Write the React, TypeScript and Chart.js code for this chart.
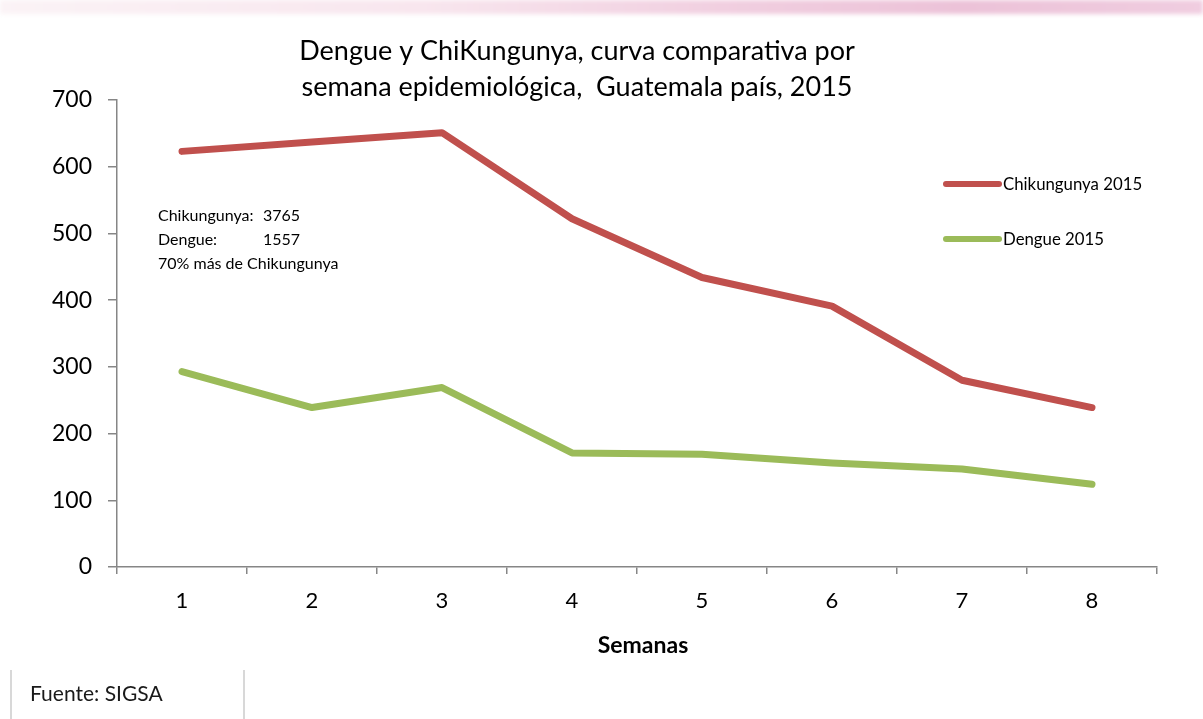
import React, { useEffect, useRef } from "react";
import { Chart, registerables } from "chart.js";

Chart.register(...registerables);

const weeks = ["1", "2", "3", "4", "5", "6", "7", "8"];
const chikungunya2015 = [623, 637, 651, 522, 434, 391, 280, 239];
const dengue2015 = [293, 239, 269, 171, 169, 156, 147, 124];
const seriesNames = ["Chikungunya 2015", "Dengue 2015"];
const titleLines = [
  "Dengue y ChiKungunya, curva comparativa por",
  "semana epidemiológica,  Guatemala país, 2015",
];
const noteLabels = ["Chikungunya:", "Dengue:", "70% más de Chikungunya"];
const noteValues = ["3765", "1557", ""];
const xTitle = "Semanas";
const sourceText = "Fuente: SIGSA";

const FONT = "Lato, 'Open Sans', sans-serif";

const overlay = {
  id: "overlay",
  afterDraw(chart: any) {
    const ctx = chart.ctx;
    const a = chart.chartArea;
    ctx.save();
    // title
    ctx.fillStyle = "#000";
    ctx.textAlign = "center";
    ctx.textBaseline = "middle";
    ctx.font = `27px ${FONT}`;
    titleLines.forEach((t, i) => ctx.fillText(t, 577, 51 + i * 36));
    // axis title
    ctx.font = `bold 23px ${FONT}`;
    ctx.fillText(xTitle, (a.left + a.right) / 2 + 6, 646);
    // note
    ctx.textAlign = "left";
    ctx.font = `16px ${FONT}`;
    noteLabels.forEach((t, i) => {
      ctx.fillText(t, 158, 216 + i * 24);
      if (noteValues[i]) ctx.fillText(noteValues[i], 263, 216 + i * 24);
    });
    // legend
    ctx.font = `16.8px ${FONT}`;
    chart.data.datasets.forEach((ds: any, i: number) => {
      const y = 184 + i * 55;
      ctx.strokeStyle = ds.borderColor;
      ctx.lineWidth = 6;
      ctx.lineCap = "round";
      ctx.beginPath();
      ctx.moveTo(946, y);
      ctx.lineTo(999, y);
      ctx.stroke();
      ctx.fillStyle = "#000";
      ctx.fillText(ds.label, 1003, y + 1);
    });
    ctx.restore();
  },
};

export default function App() {
  const ref = useRef<HTMLCanvasElement>(null);
  useEffect(() => {
    document.body.style.margin = "0";
    const chart = new Chart(ref.current!, {
      type: "line",
      data: {
        labels: weeks,
        datasets: [
          {
            label: seriesNames[0],
            data: chikungunya2015,
            borderColor: "#C0504D",
            backgroundColor: "#C0504D",
            borderWidth: 7,
            pointRadius: 0,
            borderCapStyle: "round",
            borderJoinStyle: "round",
            tension: 0,
          },
          {
            label: seriesNames[1],
            data: dengue2015,
            borderColor: "#9BBB59",
            backgroundColor: "#9BBB59",
            borderWidth: 7,
            pointRadius: 0,
            borderCapStyle: "round",
            borderJoinStyle: "round",
            tension: 0,
          },
        ],
      },
      options: {
        animation: false,
        responsive: false,
        layout: { padding: { left: 0, top: 100, right: 46, bottom: 0 } },
        plugins: {
          legend: { display: false },
          title: { display: false },
          tooltip: { enabled: false },
        },
        scales: {
          x: {
            type: "category",
            offset: true,
            grid: {
              offset: true,
              drawOnChartArea: false,
              drawTicks: true,
              tickLength: 7,
              color: "#868686",
              lineWidth: 1.5,
            },
            border: { display: true, color: "#868686", width: 1.5 },
            ticks: {
              color: "#000",
              font: { family: FONT, size: 22 },
              padding: 14,
              maxRotation: 0,
            },
            afterFit(scale: any) {
              scale.height = 152;
            },
          },
          y: {
            min: 0,
            max: 700,
            grid: {
              drawOnChartArea: false,
              drawTicks: true,
              tickLength: 9,
              color: "#868686",
              lineWidth: 1.5,
            },
            border: { display: true, color: "#868686", width: 1.5 },
            ticks: {
              stepSize: 100,
              color: "#000",
              font: { family: FONT, size: 23 },
              padding: 16,
            },
            afterFit(scale: any) {
              scale.width = 117;
            },
          },
        },
      },
      plugins: [overlay],
    });
    return () => chart.destroy();
  }, []);

  return (
    <div style={{ position: "absolute", left: 0, top: 0, width: 1203, height: 719, background: "#fff", overflow: "hidden" }}>
      <div
        style={{
          position: "absolute",
          left: 0,
          top: 0,
          width: 1203,
          height: 14,
          background: "linear-gradient(90deg, #fbf3f6 0%, #f8e6ee 35%, #f1cfe0 60%, #ecc2d8 80%, #f0cde0 100%)",
          filter: "blur(2px)",
        }}
      />
      <canvas ref={ref} width={1203} height={719} style={{ position: "absolute", left: 0, top: 0 }} />
      <div style={{ position: "absolute", left: 10, top: 670, width: 1.5, height: 49, background: "#d8d8d8" }} />
      <div style={{ position: "absolute", left: 243, top: 670, width: 1.5, height: 49, background: "#d8d8d8" }} />
      <div
        style={{
          position: "absolute",
          left: 30,
          top: 680,
          fontFamily: FONT,
          fontSize: 21,
          color: "#1a1a1a",
          lineHeight: "26px",
        }}
      >
        {sourceText}
      </div>
    </div>
  );
}
